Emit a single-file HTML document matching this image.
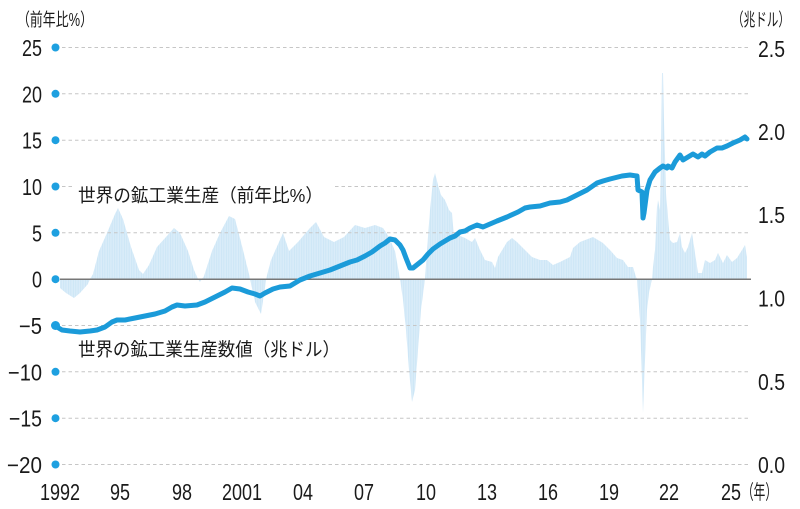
<!DOCTYPE html>
<html>
<head>
<meta charset="utf-8">
<style>
html,body{margin:0;padding:0;background:#fff;}
svg{display:block;}
.n{font-family:"Liberation Sans",Arial,sans-serif;font-size:23px;fill:#1a1a1a;}
.j{font-family:"Liberation Sans","Noto Sans CJK JP",sans-serif;fill:#1a1a1a;}
</style>
</head>
<body>
<svg width="800" height="509" viewBox="0 0 800 509" xmlns="http://www.w3.org/2000/svg">
<defs>
<pattern id="st" patternUnits="userSpaceOnUse" width="1.7" height="10">
<rect x="0" y="0" width="1.7" height="10" fill="#e2f1fb"/>
<rect x="0" y="0" width="1.1" height="10" fill="#cde6f6"/>
</pattern>
</defs>
<rect x="0" y="0" width="800" height="509" fill="#fff"/>

<!-- bars (YoY %) -->
<polygon fill="url(#st)" points="60,279 60,288 66,293 74,298 80,293 88,284 90,279 93,274 99,251 107,233 115,214 118,208 123,219 131,247 139,270 143,274 149,265 157,247 166,237 174,228 180,233 188,251 194,270 198,279 200,282 202,279 204,276 212,251 220,233 229,216 235,219 241,242 249,274 250,279 255,302 261,314 265,288 266,279 271,260 279,242 283,233 289,251 298,242 310,228 316,222 324,237 334,242 344,237 355,225 365,228 375,225 383,228 389,237 395,251 400,279 403,300 406,330 409,370 412,402 415,390 418,350 421,310 425,279 427,250 430,210 433,180 435,173 438,185 441,195 445,200 449,210 452,213 454,237 458,235 465,238 472,242 475,238 480,250 485,260 492,262 495,268 498,257 507,242 512,238 517,242 523,248 532,257 540,260 547,260 553,265 560,262 570,257 573,248 580,242 593,237 603,243 610,250 617,258 623,260 628,267 633,267 636,277 637,279 638,293 640,320 642,380 643,413 645,360 647,310 649,293 652,279 653,267 655,250 657,207 658,200 660,210 661,150 662,73 663,73 664,120 666,193 668,217 670,240 673,243 677,242 680,233 682,247 685,253 688,247 692,233 695,253 698,273 702,273 705,260 710,263 715,260 718,253 723,263 727,255 732,262 737,258 742,250 745,245 747,257 747,279"/>

<!-- gridlines -->
<g stroke="#c6c6c6" stroke-width="1" stroke-dasharray="3.5 3" fill="none">
<line x1="62" y1="47.5" x2="751" y2="47.5"/>
<line x1="62" y1="93.8" x2="751" y2="93.8"/>
<line x1="62" y1="140.2" x2="751" y2="140.2"/>
<line x1="62" y1="186.5" x2="751" y2="186.5"/>
<line x1="62" y1="232.8" x2="751" y2="232.8"/>
<line x1="62" y1="325.5" x2="751" y2="325.5"/>
<line x1="62" y1="371.8" x2="751" y2="371.8"/>
<line x1="62" y1="418.2" x2="751" y2="418.2"/>
<line x1="62" y1="464.5" x2="751" y2="464.5"/>
</g>
<line x1="60" y1="279.2" x2="751" y2="279.2" stroke="#777" stroke-width="1.5"/>

<!-- label 1 with white background -->
<rect x="72" y="183" width="260" height="24" fill="#fff"/>
<text class="j" x="78" y="202" font-size="18.5" textLength="245" lengthAdjust="spacingAndGlyphs">世界の鉱工業生産（前年比%）</text>
<text class="j" x="78" y="356" font-size="18.5" textLength="262" lengthAdjust="spacingAndGlyphs">世界の鉱工業生産数値（兆ドル）</text>

<!-- line -->
<polyline fill="none" stroke="#1b9bd9" stroke-width="5" stroke-linejoin="round" stroke-linecap="round" points="57,327 62,330 70,331 80,332 90,331 97,330 105,327 112,322 117,320 125,320 135,318 145,316 155,314 165,311 172,307 177,305 185,306 197,305 205,302 215,297 225,292 232,288 240,289 248,292 255,294 260,296 265,293 273,289 280,287 290,286 300,280 310,276 320,273 330,270 340,266 350,262 357,260 365,256 372,252 380,246 385,243 390,239 395,240 400,245 403,250 406,258 410,268 413,268 418,264 423,260 428,254 433,249 440,244 450,238 455,236 460,232 465,231 470,228 477,225 483,227 490,224 497,221 507,217 518,212 525,208 530,207 540,206 550,203 560,202 567,200 577,195 587,190 597,183 603,181 610,179 622,176 630,175 637,176 638,190 642,192 643,218 644,213 647,190 650,180 655,172 660,168 663,166 667,168 668,166 672,168 675,162 680,155 683,160 688,157 693,154 698,157 702,154 705,156 710,152 717,148 722,148 727,146 733,143 740,140 745,137 747,139"/>

<!-- left dots -->
<g fill="#1ea0e0">
<circle cx="55.5" cy="47.5" r="4"/>
<circle cx="55.5" cy="93.8" r="4"/>
<circle cx="55.5" cy="140.2" r="4"/>
<circle cx="55.5" cy="186.5" r="4"/>
<circle cx="55.5" cy="232.8" r="4"/>
<circle cx="55.5" cy="279.2" r="4"/>
<circle cx="55.5" cy="325.5" r="4.5"/>
<circle cx="55.5" cy="371.8" r="4"/>
<circle cx="55.5" cy="418.2" r="4"/>
<circle cx="55.5" cy="464.5" r="4"/>
</g>

<!-- left tick labels -->
<g class="n" text-anchor="end">
<text x="42" y="56" textLength="20" lengthAdjust="spacingAndGlyphs">25</text>
<text x="42" y="102.3" textLength="20" lengthAdjust="spacingAndGlyphs">20</text>
<text x="42" y="148.7" textLength="20" lengthAdjust="spacingAndGlyphs">15</text>
<text x="42" y="195" textLength="20" lengthAdjust="spacingAndGlyphs">10</text>
<text x="42" y="241.3" textLength="10" lengthAdjust="spacingAndGlyphs">5</text>
<text x="42" y="287.7" textLength="10" lengthAdjust="spacingAndGlyphs">0</text>
<text x="42" y="334" textLength="23" lengthAdjust="spacingAndGlyphs">−5</text>
<text x="42" y="380.3" textLength="34" lengthAdjust="spacingAndGlyphs">−10</text>
<text x="42" y="426.7" textLength="33" lengthAdjust="spacingAndGlyphs">−15</text>
<text x="42" y="473" textLength="35" lengthAdjust="spacingAndGlyphs">−20</text>
</g>

<!-- right tick labels -->
<g class="n">
<text x="758" y="57" textLength="27" lengthAdjust="spacingAndGlyphs">2.5</text>
<text x="758" y="140" textLength="27" lengthAdjust="spacingAndGlyphs">2.0</text>
<text x="758" y="223" textLength="27" lengthAdjust="spacingAndGlyphs">1.5</text>
<text x="758" y="306.5" textLength="27" lengthAdjust="spacingAndGlyphs">1.0</text>
<text x="758" y="390" textLength="27" lengthAdjust="spacingAndGlyphs">0.5</text>
<text x="758" y="473" textLength="27" lengthAdjust="spacingAndGlyphs">0.0</text>
</g>

<!-- bottom labels -->
<g class="n" text-anchor="middle">
<text x="60" y="500" textLength="40" lengthAdjust="spacingAndGlyphs">1992</text>
<text x="120" y="500" textLength="20" lengthAdjust="spacingAndGlyphs">95</text>
<text x="182" y="500" textLength="20" lengthAdjust="spacingAndGlyphs">98</text>
<text x="242" y="500" textLength="40" lengthAdjust="spacingAndGlyphs">2001</text>
<text x="303" y="500" textLength="20" lengthAdjust="spacingAndGlyphs">04</text>
<text x="364" y="500" textLength="20" lengthAdjust="spacingAndGlyphs">07</text>
<text x="426" y="500" textLength="20" lengthAdjust="spacingAndGlyphs">10</text>
<text x="487" y="500" textLength="20" lengthAdjust="spacingAndGlyphs">13</text>
<text x="548" y="500" textLength="20" lengthAdjust="spacingAndGlyphs">16</text>
<text x="609" y="500" textLength="20" lengthAdjust="spacingAndGlyphs">19</text>
<text x="669" y="500" textLength="20" lengthAdjust="spacingAndGlyphs">22</text>
<text x="731" y="500" textLength="20" lengthAdjust="spacingAndGlyphs">25</text>
</g>
<text class="j" x="742" y="499" font-size="20" textLength="35" lengthAdjust="spacingAndGlyphs">（年）</text>

<!-- axis unit labels -->
<text class="j" x="17" y="26" font-size="18" textLength="76" lengthAdjust="spacingAndGlyphs">（前年比%）</text>
<text class="j" x="732" y="26" font-size="18" textLength="58" lengthAdjust="spacingAndGlyphs">（兆ドル）</text>
</svg>
</body>
</html>
